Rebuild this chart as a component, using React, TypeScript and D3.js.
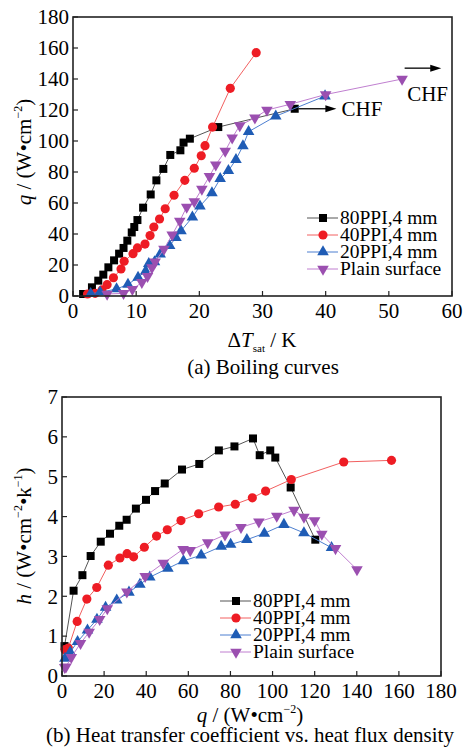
import React from 'react';
import * as d3 from 'd3';

const width = 463;
const height = 754;
const font = '"Liberation Serif", "Times New Roman", serif';

// (a) boiling curves: [ΔTsat K, q W/cm2]
const boil80 = [[1.6,1.3],[3.0,5.6],[4.0,9.9],[4.8,13.8],[5.6,18.5],[6.5,23],[7.3,27.3],[8.0,31],[8.6,35.7],[9.3,41],[9.7,44.5],[10.2,49],[11.1,57],[12.3,65.5],[13.2,74.6],[14.3,82],[15.4,91],[17.0,94],[17.5,99],[18.5,101.5],[23.0,109],[35.1,120.8]];
const boil40 = [[2.3,1.3],[3.5,1.7],[4.6,3.9],[5.4,7.3],[6.4,11.8],[7.6,17.4],[8.1,22.4],[9.5,27.3],[10.2,31],[11.4,33.5],[12.2,39],[12.8,44.5],[13.7,49.7],[14.6,56.3],[16.0,65],[17.7,74.6],[19.2,82.4],[20.3,90.5],[20.9,97],[22.1,109],[24.9,134],[29.0,157]];
const boil20 = [[2.8,1.5],[4.3,2.4],[6.9,4.5],[8.7,7.5],[10.3,12],[11.5,16],[12.0,20.8],[12.9,22],[13.8,27],[15.3,32.5],[16.3,37.6],[17.1,42],[18.9,50.8],[20.1,58],[22.0,66.5],[23.3,75.7],[24.6,80.8],[25.8,88],[26.9,96.8],[27.8,106],[32.1,116],[39.9,129]];
const boilPlain = [[5.4,1.3],[8.0,1.7],[9.4,4.3],[10.9,8.8],[11.8,12.7],[12.5,18.3],[13.0,22],[14.4,30.3],[15.7,39.4],[16.9,48.4],[18.0,57.4],[19.2,60.9],[20.4,69],[21.6,77.2],[22.6,84.6],[24.1,93.5],[25.2,102],[26.4,110],[28.8,115],[30.7,120],[34.4,123.7],[40.0,130],[52.1,140]];

// (b) heat transfer coefficient: [q W/cm2, h W/(cm2 K)]
const htc80 = [[1.2,0.75],[5.5,2.14],[9.7,2.53],[13.6,3.01],[18.4,3.37],[22.8,3.57],[27.2,3.77],[30.7,3.92],[35.1,4.2],[39.9,4.42],[44.2,4.64],[48.8,4.83],[57.0,5.18],[65.2,5.32],[74.5,5.66],[81.9,5.76],[90.7,5.96],[93.9,5.54],[98.9,5.66],[101.3,5.48],[108.6,4.73],[120.3,3.42]];
const htc40 = [[1.4,0.66],[3.0,0.7],[7.2,1.37],[11.8,1.93],[16.5,2.22],[22.0,2.78],[27.5,2.96],[30.9,3.07],[34.0,2.99],[39.1,3.23],[44.9,3.51],[50.0,3.67],[56.5,3.9],[64.9,4.07],[74.4,4.24],[82.3,4.31],[90.4,4.47],[96.7,4.64],[108.9,4.93],[133.8,5.37],[156.5,5.41]];
const htc20 = [[1.4,0.44],[3.9,0.6],[7.4,0.86],[12.1,1.15],[16.6,1.42],[20.7,1.72],[26.0,1.9],[31.8,2.1],[37.0,2.3],[41.7,2.48],[50.3,2.7],[57.7,2.89],[66.1,3.03],[75.6,3.25],[80.1,3.3],[87.8,3.42],[96.1,3.58],[105.4,3.8],[114.9,3.59],[128.0,3.22]];
const htcPlain = [[1.3,0.22],[1.9,0.23],[4.4,0.47],[8.8,0.82],[12.9,1.1],[17.9,1.42],[21.5,1.69],[30.8,2.11],[39.5,2.5],[48.1,2.83],[57.5,3.18],[60.9,3.15],[69.2,3.35],[77.4,3.54],[85.0,3.73],[93.5,3.87],[102,4.01],[110.2,4.16],[114.9,3.99],[120.0,3.9],[123.4,3.56],[129.9,3.2],[140.1,2.67]];

const seriesNames = ['80PPI,4 mm', '40PPI,4 mm', '20PPI,4 mm', 'Plain surface'];
const xTicksA = [0, 10, 20, 30, 40, 50, 60];
const yTicksA = [0, 20, 40, 60, 80, 100, 120, 140, 160, 180];
const xTicksB = [0, 20, 40, 60, 80, 100, 120, 140, 160, 180];
const yTicksB = [0, 1, 2, 3, 4, 5, 6, 7];

const styles = [
  { line: '#555', fill: '#000', shape: d3.symbolSquare, size: 64, rot: 0 },
  { line: '#f26060', fill: '#ee1c24', shape: d3.symbolCircle, size: 66, rot: 0 },
  { line: '#4d7fd0', fill: '#1f5cb5', shape: d3.symbolTriangle, size: 58, rot: 0 },
  { line: '#c07fd0', fill: '#9b4fb0', shape: d3.symbolTriangle, size: 58, rot: 180 },
];

const Marker = ({ x, y, s }) => (
  <path
    d={d3.symbol().type(s.shape).size(s.size)()}
    transform={`translate(${x},${y}) rotate(${s.rot})`}
    fill={s.fill}
  />
);

const Panel = ({ data, xDomain, yDomain, xTicks, yTicks, box, legend }) => {
  const x = d3.scaleLinear().domain(xDomain).range([box.left, box.right]);
  const y = d3.scaleLinear().domain(yDomain).range([box.bottom, box.top]);
  const line = d3.line().x(d => x(d[0])).y(d => y(d[1]));
  return (
    <g>
      {data.map((ser, i) => (
        <g key={i}>
          <path d={line(ser)} fill="none" stroke={styles[i].line} strokeWidth={1} />
          {ser.map((d, j) => <Marker key={j} x={x(d[0])} y={y(d[1])} s={styles[i]} />)}
        </g>
      ))}
      <rect x={box.left} y={box.top} width={box.right - box.left} height={box.bottom - box.top}
        fill="none" stroke="#222" strokeWidth={1.6} />
      {xTicks.map(t => (
        <g key={t}>
          <line x1={x(t)} x2={x(t)} y1={box.bottom} y2={box.bottom - 5} stroke="#222" strokeWidth={1.2} />
          <text x={x(t)} y={box.bottom + 22} textAnchor="middle" fontSize={21} fontFamily={font}>{t}</text>
        </g>
      ))}
      {yTicks.map(t => (
        <g key={t}>
          <line x1={box.left} x2={box.left + 5} y1={y(t)} y2={y(t)} stroke="#222" strokeWidth={1.2} />
          <text x={box.left - 4} y={y(t)} dy="0.35em" textAnchor="end" fontSize={21} fontFamily={font}>{t}</text>
        </g>
      ))}
      {seriesNames.map((name, i) => {
        const ly = legend.y + i * legend.step;
        return (
          <g key={name}>
            <line x1={legend.x} x2={legend.x + 31} y1={ly} y2={ly} stroke={styles[i].line} strokeWidth={1} />
            <Marker x={legend.x + 16} y={ly} s={styles[i]} />
            <text x={legend.x + 33} y={ly} dy="0.33em" fontSize={19.5} fontFamily={font}>{name}</text>
          </g>
        );
      })}
    </g>
  );
};

const Arrow = ({ x1, x2, y }) => (
  <g>
    <line x1={x1} x2={x2 - 8} y1={y} y2={y} stroke="#000" strokeWidth={1.3} />
    <path d={`M${x2},${y} L${x2 - 11},${y - 3.5} L${x2 - 11},${y + 3.5} Z`} fill="#000" />
  </g>
);

const App = () => {
  const boxA = { left: 73, right: 452, top: 17, bottom: 296 };
  const boxB = { left: 62, right: 441, top: 397, bottom: 676 };
  const xA = d3.scaleLinear().domain([0, 60]).range([boxA.left, boxA.right]);
  const yA = d3.scaleLinear().domain([0, 180]).range([boxA.bottom, boxA.top]);
  return (
    <svg width={width} height={height} style={{ position: 'absolute', left: 0, top: 0, background: '#fff' }}>
      <Panel data={[boil80, boil40, boil20, boilPlain]} xDomain={[0, 60]} yDomain={[0, 180]}
        xTicks={xTicksA} yTicks={yTicksA} box={boxA} legend={{ x: 307, y: 218, step: 17 }} />
      <Arrow x1={xA(35.7)} x2={xA(41.7)} y={yA(120.8)} />
      <text x={xA(42.5)} y={yA(120.8)} dy="0.35em" fontSize={21} fontFamily={font}>CHF</text>
      <Arrow x1={xA(52.5)} x2={xA(58.3)} y={yA(147)} />
      <text x={xA(52.9)} y={yA(126)} fontSize={21} fontFamily={font}>CHF</text>
      <text x={262} y={347} textAnchor="middle" fontSize={21} fontFamily={font}>
        Δ<tspan fontStyle="italic">T</tspan><tspan fontSize={11} dy={5}>sat</tspan><tspan dy={-5}> / K</tspan>
      </text>
      <text x={263} y={374} textAnchor="middle" fontSize={21} fontFamily={font}>(a) Boiling curves</text>
      <text transform="translate(31,152) rotate(-90)" textAnchor="middle" fontSize={21} fontFamily={font}>
        <tspan fontStyle="italic">q</tspan> / (W•cm<tspan fontSize={12} dy={-9}>−2</tspan><tspan dy={9}>)</tspan>
      </text>

      <Panel data={[htc80, htc40, htc20, htcPlain]} xDomain={[0, 180]} yDomain={[0, 7]}
        xTicks={xTicksB} yTicks={yTicksB} box={boxB} legend={{ x: 220, y: 601, step: 17 }} />
      <text x={250} y={722} textAnchor="middle" fontSize={21} fontFamily={font}>
        <tspan fontStyle="italic">q</tspan> / (W•cm<tspan fontSize={12} dy={-9}>−2</tspan><tspan dy={9}>)</tspan>
      </text>
      <text x={250} y={742} textAnchor="middle" fontSize={21} fontFamily={font}>(b) Heat transfer coefficient vs. heat flux density</text>
      <text transform="translate(31,536) rotate(-90)" textAnchor="middle" fontSize={21} fontFamily={font}>
        <tspan fontStyle="italic">h</tspan> / (W•cm<tspan fontSize={12} dy={-9}>−2</tspan><tspan dy={9}>•k</tspan><tspan fontSize={12} dy={-9}>−1</tspan><tspan dy={9}>)</tspan>
      </text>
    </svg>
  );
};

export default App;
